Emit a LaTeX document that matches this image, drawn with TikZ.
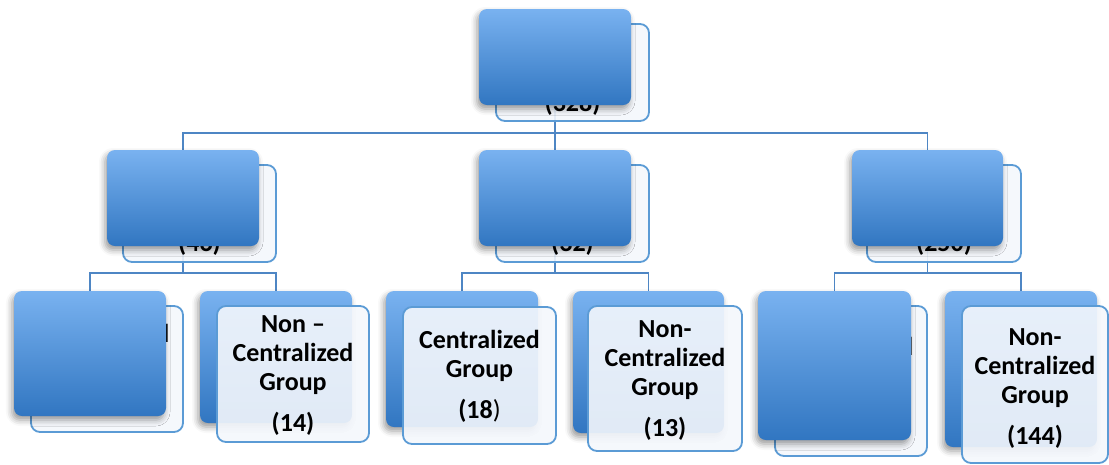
\documentclass[tikz,border=0pt]{standalone}
\usepackage{fontspec}
\setmainfont{Carlito}
\usetikzlibrary{shadows.blur,backgrounds}
\definecolor{bluetop}{HTML}{79B2F0}
\definecolor{bluebot}{HTML}{3176C1}
\definecolor{edgeblue}{HTML}{5B9BD5}
\definecolor{linkblue}{HTML}{4E86C4}
\definecolor{paleblue}{HTML}{F4F7FC}
\newcommand\firststrut{\rule{0pt}{22pt}}
\begin{document}
\begin{tikzpicture}[x=1pt,y=-1pt,
  bluebox/.style={rectangle, rounded corners=8pt, top color=bluetop, bottom color=bluebot,
    draw=none, inner sep=0pt,
    blur shadow={shadow xshift=-2pt, shadow yshift=-4pt, shadow blur radius=6pt, shadow opacity=40}},
  whitebox/.style={rectangle, rounded corners=9pt, draw=edgeblue, line width=1.8pt,
    fill=paleblue, fill opacity=0.9, inner sep=0pt},
  lbl/.style={font=\bfseries\fontsize{26}{29}\selectfont, align=center, inner sep=0pt,
    anchor=north, text=black},
  numlbl/.style={font=\bfseries\fontsize{26}{29}\selectfont, inner sep=0pt, anchor=base, text=black},
  link/.style={draw=linkblue, line width=1.6pt}]
\useasboundingbox (0,0) rectangle (1109,464);

% ---- white boxes lying under their blue boxes
\node[whitebox, minimum width=153pt, minimum height=97pt] (tw) at (572.5,72.5) {};
\node[numlbl] (tn) at (572.5,111) {(328)};
\node[whitebox, minimum width=153pt, minimum height=97pt] (aw) at (199.5,213.5) {};
\node[numlbl] (an) at (199.5,251) {(46)};
\node[whitebox, minimum width=153pt, minimum height=97pt] (bw) at (572.5,213.5) {};
\node[numlbl] (bn) at (572.5,251) {(32)};
\node[whitebox, minimum width=154pt, minimum height=97pt] (cw) at (944,213.5) {};
\node[numlbl] (cn) at (944,251) {(250)};
\node[whitebox, minimum width=152pt, minimum height=126pt] (w1) at (107,369) {};
\node[lbl] (t1) at (109,320) {\firststrut Centralized\\Group\\[12pt](32)};
\node[whitebox, minimum width=152pt, minimum height=150pt] (w5) at (851,381) {};
\node[lbl] (t5) at (853,333) {\firststrut Centralized\\Group\\[12pt](106)};

% ---- blue boxes
\node[bluebox, minimum width=152pt, minimum height=96pt] (t) at (555,57) {};
\node[bluebox, minimum width=152pt, minimum height=96pt] (a) at (183,198) {};
\node[bluebox, minimum width=152pt, minimum height=96pt] (b) at (555,198) {};
\node[bluebox, minimum width=151pt, minimum height=96pt] (c) at (927.5,198) {};
\node[bluebox, minimum width=152pt, minimum height=125pt] (a1) at (90,353.5) {};
\node[bluebox, minimum width=152pt, minimum height=132pt] (a2) at (276,357) {};
\node[bluebox, minimum width=152pt, minimum height=136pt] (b1) at (462,359) {};
\node[bluebox, minimum width=151pt, minimum height=142pt] (b2) at (648.5,362) {};
\node[bluebox, minimum width=153pt, minimum height=149pt] (c1) at (834.5,365.5) {};
\node[bluebox, minimum width=152pt, minimum height=156pt] (c2) at (1021,369) {};

% ---- white boxes lying over their blue boxes
\node[whitebox, minimum width=152pt, minimum height=136pt] (w2) at (293,374) {};
\node[lbl] (t2) at (293,310) {\firststrut Non –\\Centralized\\Group\\[12pt](14)};
\node[whitebox, minimum width=153pt, minimum height=137pt] (w3) at (479.5,375.5) {};
\node[lbl] (t3) at (479.5,326) {\firststrut Centralized\\Group\\[12pt](18\textmd{)}};
\node[whitebox, minimum width=154pt, minimum height=145pt] (w4) at (665,378.5) {};
\node[lbl] (t4) at (665,315) {\firststrut Non-\\Centralized\\Group\\[12pt](13)};
\node[whitebox, minimum width=146pt, minimum height=157pt] (w6) at (1035,384.5) {};
\node[lbl] (t6) at (1035,323) {\firststrut Non-\\Centralized\\Group\\[12pt](144)};

% ---- connectors
\begin{pgfonlayer}{background}
\coordinate (j0) at (555,133);
\coordinate (ja) at (183,273);
\coordinate (jb) at (555,273);
\coordinate (jc) at (927.5,273);
\draw[link] (t.south) -- (j0) -| (a.north);
\draw[link] (j0) -| (c.north);
\draw[link] (j0) -- (b.north);
\draw[link] (a.south) -- (ja) -| (a1.north);
\draw[link] (ja) -| (a2.north);
\draw[link] (b.south) -- (jb) -| (b1.north);
\draw[link] (jb) -| (b2.north);
\draw[link] (c.south) -- (jc) -| (c1.north);
\draw[link] (jc) -| (c2.north);
\end{pgfonlayer}
\end{tikzpicture}
\end{document}
